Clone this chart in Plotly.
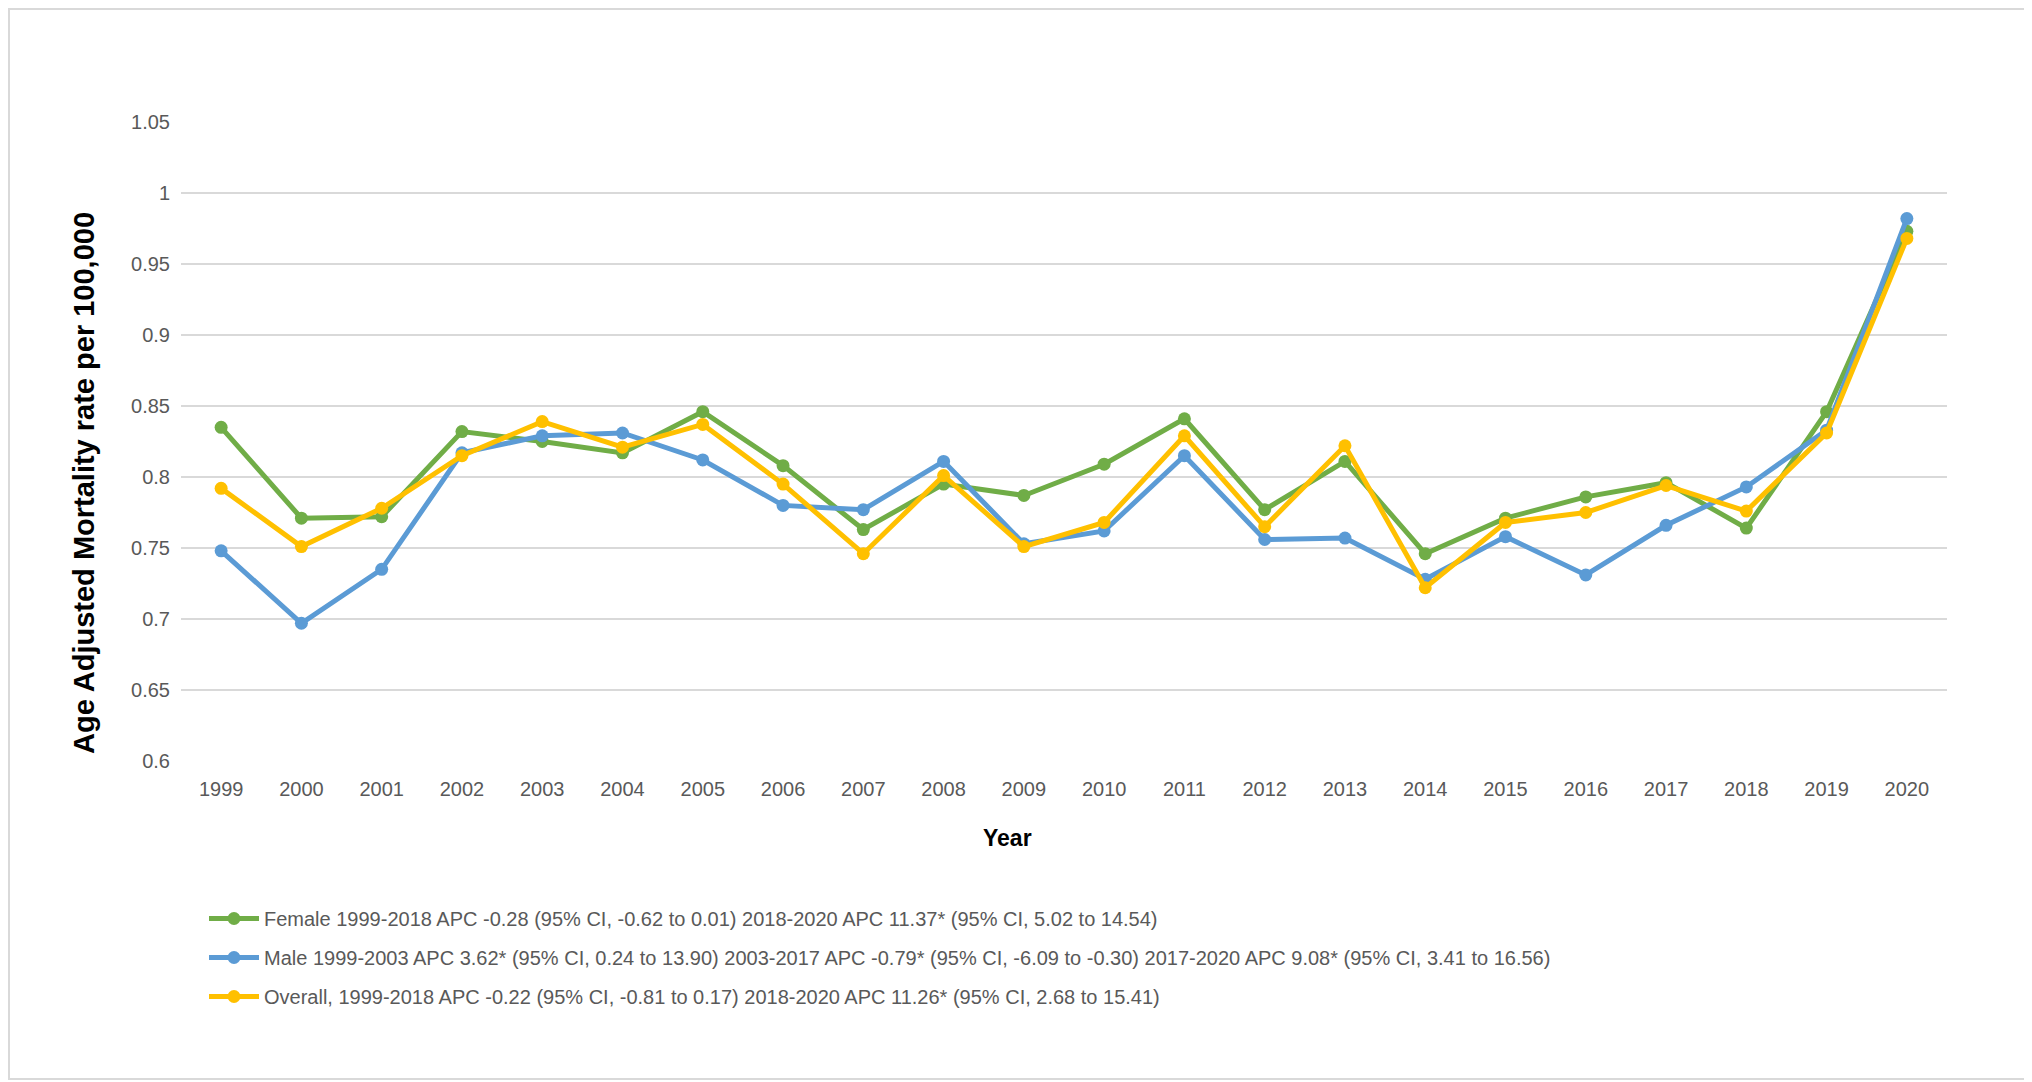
import plotly.graph_objects as go

years = [str(y) for y in range(1999, 2021)]

female = [0.835, 0.771, 0.772, 0.832, 0.825, 0.817, 0.846, 0.808, 0.763, 0.795, 0.787,
          0.809, 0.841, 0.777, 0.811, 0.746, 0.771, 0.786, 0.796, 0.764, 0.846, 0.973]
male = [0.748, 0.697, 0.735, 0.817, 0.829, 0.831, 0.812, 0.780, 0.777, 0.811, 0.753,
        0.762, 0.815, 0.756, 0.757, 0.728, 0.758, 0.731, 0.766, 0.793, 0.833, 0.982]
overall = [0.792, 0.751, 0.778, 0.815, 0.839, 0.821, 0.837, 0.795, 0.746, 0.801, 0.751,
           0.768, 0.829, 0.765, 0.822, 0.722, 0.768, 0.775, 0.794, 0.776, 0.831, 0.968]

series_names = [
    "Female 1999-2018 APC -0.28 (95% CI, -0.62 to 0.01) 2018-2020 APC 11.37* (95% CI, 5.02 to 14.54)",
    "Male 1999-2003 APC 3.62* (95% CI, 0.24 to 13.90) 2003-2017 APC -0.79* (95% CI, -6.09 to -0.30) 2017-2020 APC 9.08* (95% CI, 3.41 to 16.56)",
    "Overall, 1999-2018 APC -0.22 (95% CI, -0.81 to 0.17) 2018-2020 APC 11.26* (95% CI, 2.68 to 15.41)",
]
series_values = [female, male, overall]
series_colors = ["#70AD47", "#5B9BD5", "#FFC000"]

y_ticks = [0.6, 0.65, 0.7, 0.75, 0.8, 0.85, 0.9, 0.95, 1.0, 1.05]
y_tick_labels = ["0.6", "0.65", "0.7", "0.75", "0.8", "0.85", "0.9", "0.95", "1", "1.05"]

# page has an 8px body margin; work in screenshot coordinates
OFF = 8
W, H = 2032 - OFF, 1082 - OFF
PL, PR, PT, PB = 181, 1947, 122, 761  # plot area in screenshot px
L, T = PL - OFF, PT - OFF
R, B = W - (PR - OFF), H - (PB - OFF)
PW, PH = W - L - R, H - T - B

def px_x(x):
    return ((x - OFF) - L) / PW

def px_y(y):
    return (H - B - (y - OFF)) / PH

fig = go.Figure()
for name, vals, col in zip(series_names, series_values, series_colors):
    fig.add_trace(go.Scatter(
        x=years, y=vals, name=name, mode="lines+markers",
        line=dict(color=col, width=5),
        marker=dict(color=col, size=13),
        legendgroup=name,
    ))

font_fam = "Liberation Sans, Arial, sans-serif"

fig.update_layout(
    width=W, height=H,
    margin=dict(l=L, r=R, t=T, b=B),
    paper_bgcolor="white", plot_bgcolor="white",
    font=dict(family=font_fam, size=20, color="#595959"),
    showlegend=True,
    legend=dict(
        x=px_x(204), y=px_y(899), xanchor="left", yanchor="top",
        orientation="v", font=dict(size=20, color="#595959"),
        tracegroupgap=10, itemwidth=50, bgcolor="rgba(0,0,0,0)",
    ),
    xaxis=dict(
        type="category", range=[-0.5, 21.5], showgrid=False, zeroline=False,
        showline=False, ticks="", ticklabelstandoff=14,
        tickfont=dict(size=20, color="#595959"),
    ),
    yaxis=dict(
        range=[0.6, 1.05], tickvals=y_ticks, ticktext=y_tick_labels,
        showgrid=True, gridcolor="#D9D9D9", gridwidth=1.5, zeroline=False,
        showline=False, ticks="", ticklabelstandoff=10,
        tickfont=dict(size=20, color="#595959"),
    ),
    annotations=[
        dict(text="<b>Age Adjusted Mortality rate per 100,000</b>", textangle=-90,
             xref="paper", yref="paper", x=px_x(84), y=px_y(483),
             xanchor="center", yanchor="middle", showarrow=False,
             font=dict(size=29, color="#000000", family=font_fam)),
        dict(text="<b>Year</b>", xref="paper", yref="paper",
             x=px_x(1007), y=px_y(838), xanchor="center", yanchor="middle",
             showarrow=False, font=dict(size=23, color="#000000", family=font_fam)),
    ],
    shapes=[
        dict(type="rect", xref="paper", yref="paper",
             x0=px_x(9), x1=px_x(2030), y0=px_y(9), y1=px_y(1079),
             line=dict(color="#D9D9D9", width=2), layer="below"),
    ],
)

fig.write_html("out.html")
